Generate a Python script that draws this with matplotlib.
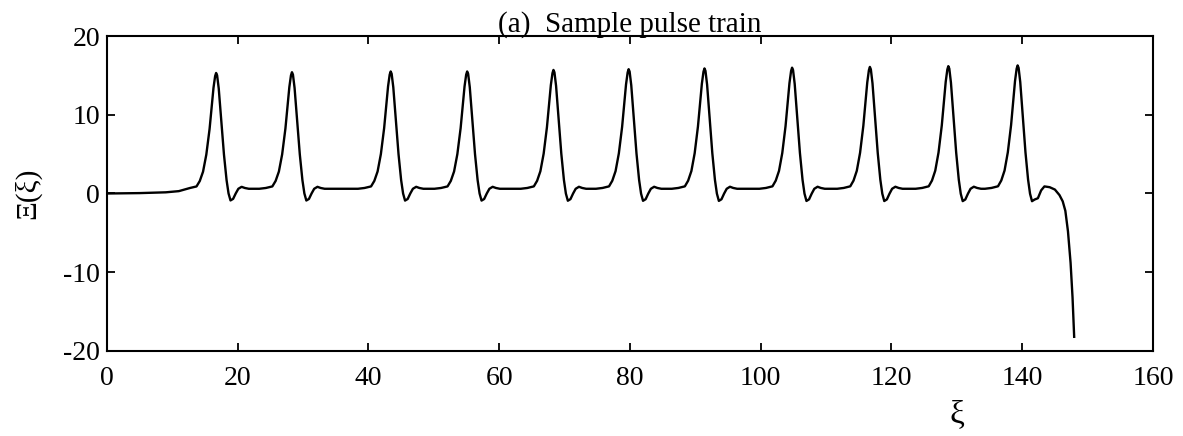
import numpy as np
import matplotlib.pyplot as plt

# data
peak_x = [16.7, 28.3, 43.4, 55.1, 68.3, 79.8, 91.4, 104.8, 116.7, 128.7, 139.3]
peak_h = [15.3, 15.4, 15.5, 15.5, 15.7, 15.8, 15.9, 16.0, 16.1, 16.2, 16.3]
plateau = 0.6

# shape of one pulse (offset from peak, value), read from the first pulses
tpl_dx = [-5.0, -4.0, -3.0, -2.5, -2.0, -1.5, -1.0, -0.7, -0.4, -0.15, 0.0,
          0.15, 0.4, 0.8, 1.2, 1.6, 1.9, 2.2, 2.6, 3.0, 3.4, 3.9, 4.4, 5.0]
tpl_y = [0.6, 0.7, 0.9, 1.6, 2.8, 5.0, 8.3, 11.0, 13.6, 15.1, 15.5,
         15.2, 13.5, 9.3, 5.0, 1.7, 0.0, -0.9, -0.7, 0.0, 0.6, 0.85, 0.7, 0.6]

# start and the blow-up at the end
lead_x = [0.0, 5.0, 9.0, 11.0]
lead_y = [0.0, 0.05, 0.15, 0.3]
tail_x = [142.4, 142.9, 143.4, 144.2, 145.0, 145.7, 146.2, 146.6, 147.0, 147.4, 147.7, 147.95]
tail_y = [-0.6, 0.4, 0.9, 0.8, 0.5, -0.2, -1.0, -2.2, -4.8, -8.8, -13.2, -18.2]

tdx = np.array(tpl_dx)
ty = np.array(tpl_y)
xs = list(lead_x)
ys = list(lead_y)
for i, (px, h) in enumerate(zip(peak_x, peak_h)):
    y = plateau + (ty - plateau) * h / 15.5
    x = px + tdx
    if i == 0:
        keep = tdx >= -4.0
        x, y = x[keep], y[keep]
    if i == len(peak_x) - 1:
        keep = tdx <= 2.6
        x, y = x[keep], y[keep]
    xs += list(x)
    ys += list(y)
xs += tail_x
ys += tail_y

plt.rcParams['font.family'] = ['Liberation Serif', 'DejaVu Serif']
plt.rcParams['axes.unicode_minus'] = False
fig = plt.figure(figsize=(11.83, 4.36), dpi=100)
ax = fig.add_axes([0.0904, 0.195, 0.8842, 0.7224])

ax.plot(xs, ys, color='black', lw=1.7)

ax.set_xlim(0, 160)
ax.set_ylim(-20, 20)
ax.set_xticks(np.arange(0, 161, 20))
ax.set_yticks(np.arange(-20, 21, 10))
ax.tick_params(direction='in', length=6, width=1.3, top=True, right=True,
               labelsize=20)
ax.tick_params(axis='x', pad=11)
ax.tick_params(axis='y', pad=5)
for s in ax.spines.values():
    s.set_linewidth(1.5)

ax.set_title('(a)  Sample pulse train', fontsize=21, pad=3)
ax.set_ylabel('Ξ(ξ)', fontsize=21, labelpad=16)
ax.set_xlabel('ξ', fontsize=24)
ax.xaxis.set_label_coords(0.813, -0.155)

plt.savefig('out.png')
